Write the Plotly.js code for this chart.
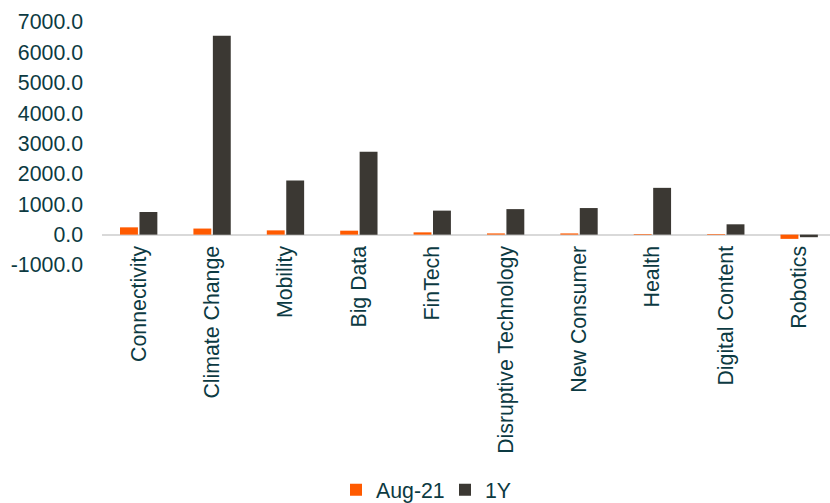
<!DOCTYPE html>
<html>
<head>
<meta charset="utf-8">
<script src="https://cdn.plot.ly/plotly-3.0.1.min.js"></script>
<style>
html,body{margin:0;padding:0;background:#fff;overflow:hidden;}
#chart{width:830px;height:503px;}
</style>
</head>
<body>
<div id="chart"></div>
<script>
var categories = ["Connectivity","Climate Change","Mobility","Big Data","FinTech","Disruptive Technology","New Consumer","Health","Digital Content","Robotics"];
var aug21 = [240, 200, 140, 130, 75, 40, 40, 20, 20, -140];
var oneYear = [745, 6550, 1780, 2730, 790, 840, 875, 1540, 340, -85];
var tickValues = [-1000, 0, 1000, 2000, 3000, 4000, 5000, 6000, 7000];
var tickLabels = ["-1000.0","0.0","1000.0","2000.0","3000.0","4000.0","5000.0","6000.0","7000.0"];

var textColor = "#0c3a42";
var fontFam = "Liberation Sans, Arial, sans-serif";
var fs = 21.3;

var traces = [
  {type:"bar", name:"Aug-21", x:categories, y:aug21, marker:{color:"#ff5a00", line:{width:0}}},
  {type:"bar", name:"1Y", x:categories, y:oneYear, marker:{color:"#3b3833", line:{width:0}}}
];

var yMin = -1000, yMax = 7000;
var layout = {
  width:830, height:503,
  margin:{l:102, r:0, t:21.5, b:237.5, pad:0, autoexpand:false},
  paper_bgcolor:"#fff", plot_bgcolor:"#fff",
  font:{family:fontFam, size:fs, color:textColor},
  barmode:"group", bargap:0.47, bargroupgap:0.08,
  showlegend:true,
  legend:{orientation:"h", xref:"container", yref:"container", x:336/830, xanchor:"left",
          y:1 - 490/503, yanchor:"middle", entrywidth:64, entrywidthmode:"pixels",
          font:{family:fontFam, size:fs, color:textColor}, itemwidth:30, tracegroupgap:0},
  xaxis:{type:"category", range:[-0.5, 9.42], domain:[0,1], anchor:"free", automargin:false,
         position:(0 - yMin)/(yMax - yMin),
         showline:false, showgrid:false, zeroline:false, ticks:"", tickangle:-90,
         ticklabelstandoff:6, tickfont:{family:fontFam, size:fs, color:textColor}},
  yaxis:{range:[yMin, yMax], tickvals:tickValues, ticktext:tickLabels, showgrid:false, automargin:false,
         showline:false, ticks:"", zeroline:true, zerolinecolor:"#d9d9d9", zerolinewidth:2,
         ticklabelstandoff:18, tickfont:{family:fontFam, size:fs, color:textColor}}
};

Plotly.newPlot("chart", traces, layout, {displayModeBar:false, staticPlot:true});
</script>
</body>
</html>
